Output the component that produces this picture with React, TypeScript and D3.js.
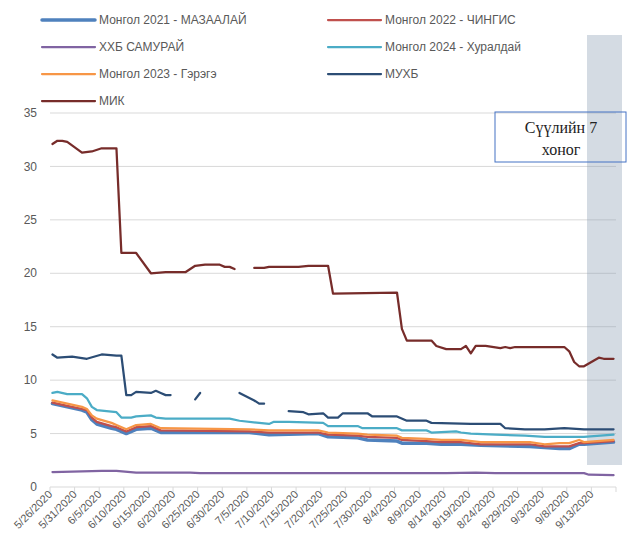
import React from "react";
import * as d3 from "d3";

type Pt = [string, number | null];

// series readings (month/day of 2020, value); null = missing day
const mongol2021: Pt[] = [
  ["5/26", 7.8], ["5/29", 7.5], ["6/1", 7.2], ["6/2", 7.0], ["6/3", 6.3], ["6/4", 5.9],
  ["6/7", 5.5], ["6/8", 5.4], ["6/10", 5.0], ["6/12", 5.4], ["6/15", 5.5], ["6/17", 5.1],
  ["7/5", 5.1], ["7/9", 4.9], ["7/19", 5.0], ["7/21", 4.7], ["7/27", 4.6], ["7/29", 4.4],
  ["8/4", 4.3], ["8/5", 4.1], ["8/10", 4.1], ["8/13", 4.0], ["8/17", 4.0], ["8/21", 3.9],
  ["8/31", 3.8], ["9/3", 3.7], ["9/6", 3.6], ["9/8", 3.6], ["9/10", 4.0], ["9/11", 4.0], ["9/17", 4.2],
];
const mongol2022: Pt[] = [
  ["5/26", 7.9], ["5/29", 7.6], ["6/1", 7.3], ["6/2", 7.2], ["6/3", 6.5], ["6/4", 6.1],
  ["6/7", 5.7], ["6/8", 5.6], ["6/10", 5.2], ["6/12", 5.6], ["6/15", 5.7], ["6/17", 5.3],
  ["7/5", 5.2], ["7/9", 5.1], ["7/19", 5.1], ["7/21", 4.9], ["7/27", 4.8], ["7/29", 4.7],
  ["8/4", 4.6], ["8/5", 4.4], ["8/10", 4.3], ["8/13", 4.2], ["8/17", 4.2], ["8/21", 4.0],
  ["8/31", 4.0], ["9/3", 3.8], ["9/6", 3.8], ["9/8", 3.8], ["9/10", 4.1], ["9/11", 4.1], ["9/17", 4.3],
];
const khkhbSamurai: Pt[] = [
  ["5/26", 1.4], ["6/5", 1.5], ["6/8", 1.5], ["6/12", 1.35], ["6/23", 1.35], ["6/25", 1.3],
  ["7/25", 1.3], ["8/14", 1.3], ["8/20", 1.35], ["8/24", 1.3], ["9/11", 1.3], ["9/12", 1.15], ["9/17", 1.1],
];
const mongol2024: Pt[] = [
  ["5/26", 8.8], ["5/27", 8.9], ["5/29", 8.7], ["6/1", 8.7], ["6/2", 8.3], ["6/3", 7.5],
  ["6/4", 7.2], ["6/8", 7.0], ["6/9", 6.5], ["6/11", 6.5], ["6/12", 6.6], ["6/15", 6.7],
  ["6/16", 6.5], ["6/18", 6.4], ["7/1", 6.4], ["7/3", 6.2], ["7/7", 6.0], ["7/9", 5.9],
  ["7/10", 6.1], ["7/13", 6.1], ["7/20", 6.0], ["7/21", 5.7], ["7/27", 5.7], ["7/28", 5.5],
  ["8/4", 5.5], ["8/5", 5.3], ["8/10", 5.3], ["8/11", 5.1], ["8/16", 5.2], ["8/17", 5.1],
  ["8/19", 5.0], ["8/24", 4.9], ["8/30", 4.8], ["9/3", 4.7], ["9/11", 4.7], ["9/17", 4.9],
];
const mongol2023: Pt[] = [
  ["5/26", 8.1], ["5/29", 7.8], ["6/1", 7.5], ["6/2", 7.3], ["6/3", 6.7], ["6/4", 6.4],
  ["6/7", 6.0], ["6/8", 5.8], ["6/10", 5.4], ["6/12", 5.8], ["6/15", 5.9], ["6/17", 5.5],
  ["7/5", 5.4], ["7/9", 5.3], ["7/19", 5.3], ["7/21", 5.1], ["7/27", 5.0], ["7/29", 4.9],
  ["8/4", 4.8], ["8/5", 4.6], ["8/10", 4.5], ["8/13", 4.4], ["8/17", 4.4], ["8/21", 4.2],
  ["8/31", 4.2], ["9/3", 4.0], ["9/6", 4.1], ["9/8", 4.1], ["9/10", 4.4], ["9/11", 4.2], ["9/17", 4.4],
];
const mukhb: Pt[] = [
  ["5/26", 12.4], ["5/27", 12.1], ["5/30", 12.2], ["6/2", 12.0], ["6/5", 12.4], ["6/8", 12.3],
  ["6/9", 12.3], ["6/10", 8.6], ["6/11", 8.6], ["6/12", 8.9], ["6/15", 8.8], ["6/16", 9.0],
  ["6/17", 8.8], ["6/18", 8.6], ["6/19", 8.6], ["6/20", null], ["6/24", 8.2], ["6/25", 8.8],
  ["6/26", null], ["7/3", 8.8], ["7/6", 8.1], ["7/7", 7.8], ["7/8", 7.8], ["7/9", null],
  ["7/13", 7.1], ["7/16", 7.0], ["7/17", 6.8], ["7/20", 6.9], ["7/21", 6.5], ["7/23", 6.5],
  ["7/24", 6.9], ["7/29", 6.9], ["7/30", 6.6], ["8/4", 6.6], ["8/6", 6.2], ["8/10", 6.2],
  ["8/11", 6.0], ["8/19", 5.9], ["8/25", 5.9], ["8/26", 5.5], ["8/30", 5.4], ["9/3", 5.4],
  ["9/7", 5.5], ["9/11", 5.4], ["9/17", 5.4],
];
const mik: Pt[] = [
  ["5/26", 32.1], ["5/27", 32.4], ["5/28", 32.4], ["5/29", 32.3], ["6/1", 31.3], ["6/3", 31.4],
  ["6/5", 31.7], ["6/8", 31.7], ["6/9", 21.9], ["6/12", 21.9], ["6/15", 20.0], ["6/18", 20.1],
  ["6/22", 20.1], ["6/24", 20.7], ["6/26", 20.8], ["6/29", 20.8], ["6/30", 20.6], ["7/1", 20.6],
  ["7/2", 20.4], ["7/3", null], ["7/6", 20.5], ["7/8", 20.5], ["7/9", 20.6], ["7/15", 20.6],
  ["7/17", 20.7], ["7/21", 20.7], ["7/22", 18.1], ["8/4", 18.2], ["8/5", 14.8], ["8/6", 13.7],
  ["8/11", 13.7], ["8/12", 13.2], ["8/14", 12.9], ["8/17", 12.9], ["8/18", 13.2], ["8/19", 12.5],
  ["8/20", 13.2], ["8/22", 13.2], ["8/25", 13.0], ["8/26", 13.1], ["8/27", 13.0], ["8/28", 13.1],
  ["9/7", 13.1], ["9/8", 12.7], ["9/9", 11.7], ["9/10", 11.3], ["9/11", 11.3], ["9/14", 12.1],
  ["9/15", 12.0], ["9/17", 12.0],
];

const seriesNames = [
  "Монгол 2021 - МАЗААЛАЙ",
  "Монгол 2022 - ЧИНГИС",
  "ХХБ САМУРАЙ",
  "Монгол 2024 - Хуралдай",
  "Монгол 2023 - Гэрэгэ",
  "МУХБ",
  "МИК",
];
const seriesData = [mongol2021, mongol2022, khkhbSamurai, mongol2024, mongol2023, mukhb, mik];
const colors = ["#4F81BD", "#C0504D", "#8064A2", "#4BACC6", "#F79646", "#2C4D75", "#772C2A"];
const widths = [3.5, 2.25, 2.25, 2.25, 2.25, 2.25, 2.25];

const yTicks = [0, 5, 10, 15, 20, 25, 30, 35];
const boxLines = ["Сүүлийн 7", "хоног"];

const parseDay = (s: string) => {
  const [m, d] = s.split("/").map(Number);
  return new Date(2020, m - 1, d, 12);
};

const start = new Date(2020, 4, 26);
const end = new Date(2020, 8, 18);
const x = d3.scaleTime().domain([start, end]).range([50, 616]);
const y = d3.scaleLinear().domain([0, 35]).range([487, 113]);
const fmt = d3.timeFormat("%-m/%-d/%Y");

export default function App() {
  const tickDates = d3.range(0, 24).map((i) => d3.timeDay.offset(start, i * 5));
  const line = d3
    .line<Pt>()
    .defined((p) => p[1] !== null)
    .x((p) => x(parseDay(p[0])))
    .y((p) => y(p[1] as number));

  const font = "Liberation Sans, Arial, sans-serif";

  return (
    <svg
      width={630}
      height={550}
      style={{ position: "absolute", left: 0, top: 0, background: "#fff" }}
      fontFamily={font}
    >
      {/* grid */}
      {yTicks.map((t) => (
        <g key={t}>
          {t > 0 && <line x1={50} x2={616} y1={y(t)} y2={y(t)} stroke="#d9d9d9" strokeWidth={1} />}
          <text x={37} y={y(t)} dy="0.35em" textAnchor="end" fontSize={12} fill="#595959">
            {t}
          </text>
        </g>
      ))}
      {/* last week band */}
      <rect x={587} y={35} width={35} height={430} fill="#8497B0" fillOpacity={0.35} />
      {/* x axis */}
      <line x1={50} x2={616} y1={y(0)} y2={y(0)} stroke="#d9d9d9" strokeWidth={1} />
      {tickDates.map((d, i) => (
        <g key={i}>
          <line x1={x(d)} x2={x(d)} y1={y(0)} y2={y(0) + 5} stroke="#d9d9d9" />
          {i < 23 && (
            <text
              transform={`translate(${x(d) + 3},${y(0) + 8}) rotate(-45)`}
              textAnchor="end"
              fontSize={11}
              fill="#595959"
            >
              {fmt(d)}
            </text>
          )}
        </g>
      ))}
      {/* series */}
      {seriesData.map((s, i) => (
        <path
          key={seriesNames[i]}
          d={line(s) || ""}
          fill="none"
          stroke={colors[i]}
          strokeWidth={widths[i]}
          strokeLinejoin="round"
          strokeLinecap="round"
        />
      ))}
      {/* legend */}
      {seriesNames.map((n, i) => {
        const col = i % 2;
        const row = Math.floor(i / 2);
        const lx = col === 0 ? 42 : 328;
        const ly = 20 + row * 27;
        return (
          <g key={n}>
            <line x1={lx} x2={lx + 53} y1={ly} y2={ly} stroke={colors[i]} strokeWidth={widths[i]} strokeLinecap="round" />
            <text x={lx + 57} y={ly} dy="0.35em" fontSize={12} fill="#595959">
              {n}
            </text>
          </g>
        );
      })}
      {/* annotation box */}
      <rect x={495} y={112} width={131} height={50} fill="none" stroke="#4472C4" strokeWidth={1} />
      {boxLines.map((t, i) => (
        <text
          key={t}
          x={561}
          y={133 + i * 22}
          textAnchor="middle"
          fontFamily="Liberation Serif, Times New Roman, serif"
          fontSize={16}
          fill="#222"
        >
          {t}
        </text>
      ))}
    </svg>
  );
}
